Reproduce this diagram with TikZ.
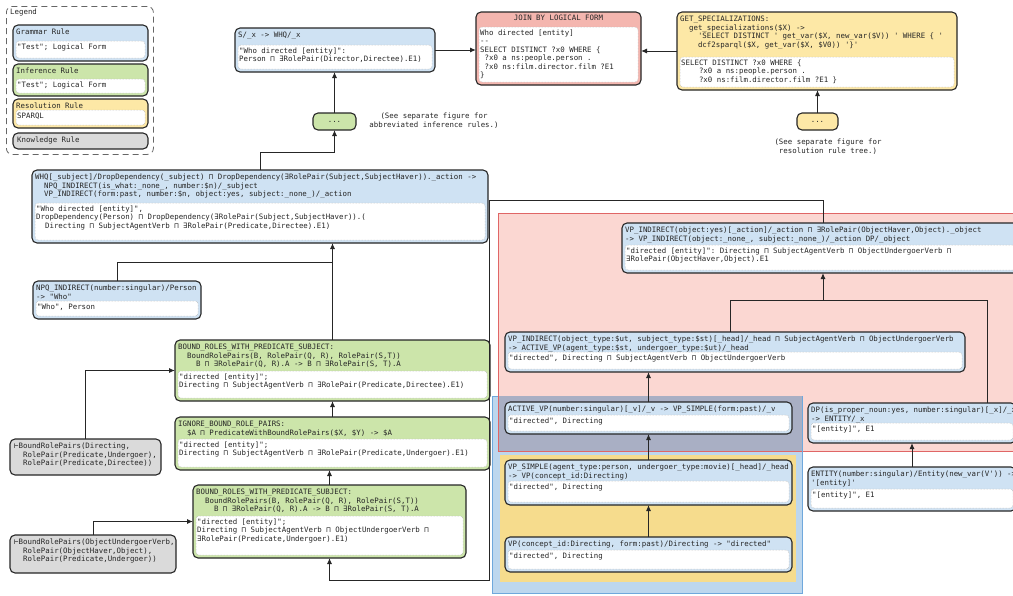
\documentclass[tikz,border=0pt]{standalone}
\usepackage{fontspec}
\setmonofont{DejaVu Sans Mono}
\usetikzlibrary{arrows.meta}
\definecolor{cG}{HTML}{CFE2F3}
\definecolor{cI}{HTML}{CCE5AA}
\definecolor{cR}{HTML}{FDE8A6}
\definecolor{cK}{HTML}{DADADA}
\definecolor{cJ}{HTML}{F4B6AF}
\definecolor{regR}{HTML}{FBD7D2}
\definecolor{regRb}{HTML}{E06666}
\definecolor{regB}{HTML}{BDD7EE}
\definecolor{regBb}{HTML}{6FA8DC}
\definecolor{regY}{HTML}{F6DC8D}
\definecolor{regO}{HTML}{A9AFC4}
\definecolor{ink}{HTML}{262626}
\tikzset{
  rb/.style={draw=ink, line width=1.1pt, rounded corners=5pt, inner sep=0pt, outer sep=0pt},
  inbox/.style={fill=white, draw=gray!60, densely dotted, line width=0.5pt, rounded corners=3pt},
  txt/.style={font={\ttfamily\fontsize{7.4}{8.5}\selectfont}, text=ink, align=left, inner sep=0pt, anchor=north west},
  arr/.style={draw=ink, line width=1pt, -{Latex[length=6pt,width=5pt]}},
  ln/.style={draw=ink, line width=1pt},
}
% name, x1, y1, x2, y2, inner top, fill, header, inner text
\newcommand\rulebox[9]{%
  \node[rb, fill=#7, minimum width={(#4-#2)*1pt}, minimum height={(#5-#3)*1pt}, anchor=north west] (#1) at (#2,#3) {};
  \draw[inbox] (#2+3,#6) rectangle (#4-3,#5-3);
  \node[txt] at (#2+3,#3+4) {#8};
  \node[txt] at (#2+4,#6+2.5) {#9};
}
% name, x1, y1, x2, y2, text
\newcommand\knowbox[6]{%
  \node[rb, fill=cK, minimum width={(#4-#2)*1pt}, minimum height={(#5-#3)*1pt}, anchor=north west] (#1) at (#2,#3) {};
  \node[txt] at (#2+4,#3+4) {#6};
}
\begin{document}
\begin{tikzpicture}[x=1pt,y=-1pt]
\useasboundingbox (0,0) rectangle (1013,595);
\clip (0,0) rectangle (1013,595);
% ---------- background regions
\fill[regR] (498,213) rectangle (1030,451);
\draw[regRb, line width=0.8pt] (498,213) rectangle (1030,451);
\fill[regB] (492,396) rectangle (802,593);
\draw[regBb, line width=0.8pt] (492,396) rectangle (802,593);
\fill[regO] (498,396) rectangle (802,451);
\draw[regRb, line width=0.8pt] (498,396) -- (498,451) -- (802,451);
\fill[regY] (500,455) rectangle (796,582);
% ---------- legend
\node[draw=gray!80!black, dashed, dash pattern=on 6pt off 4pt, line width=0.8pt, rounded corners=6pt, minimum width=147pt, minimum height=148pt, anchor=north west, inner sep=0pt] (leg) at (6,6) {};
\node[txt] at (10,9) {Legend};
\rulebox{lgG}{13}{25}{148}{61}{41}{cG}{Grammar Rule}{"Test"; Logical Form}
\rulebox{lgI}{13}{64}{148}{96}{79}{cI}{Inference Rule}{"Test"; Logical Form}
\rulebox{lgR}{13}{99}{148}{128}{110}{cR}{Resolution Rule}{SPARQL}
\knowbox{lgK}{13}{133}{148}{149}{Knowledge Rule}
% ---------- top row
\rulebox{S}{235}{28}{435}{72}{45}{cG}{S/\_x -> WHQ/\_x}{"Who directed [entity]":\\Person ⊓ ∃RolePair(Director,Directee).E1)}
\rulebox{J}{476}{12}{641}{85}{27}{cJ}{}{Who directed [entity]\\--\\SELECT DISTINCT ?x0 WHERE \{\\~?x0 a ns:people.person .\\~?x0 ns:film.director.film ?E1\\\}}
\node[txt, anchor=north] at (558.5,15) {JOIN BY LOGICAL FORM};
\rulebox{GS}{677}{12}{957}{90}{57}{cR}{GET\_SPECIALIZATIONS:\\~~get\_specializations(\$X) ->\\~~~~'SELECT DISTINCT ' get\_var(\$X, new\_var(\$V)) ' WHERE \{ '\\~~~~dcf2sparql(\$X, get\_var(\$X, \$V0)) '\}'}{SELECT DISTINCT ?x0 WHERE \{\\~~~~?x0 a ns:people.person .\\~~~~?x0 ns:film.director.film ?E1 \}}
\node[rb, fill=cI, minimum width=43pt, minimum height=17pt, anchor=north west] (dotG) at (313,113) {};
\node[txt, anchor=center] at (dotG) {...};
\node[txt, align=center, anchor=north] (noteG) at (434,113) {(See separate figure for\\abbreviated inference rules.)};
\node[rb, fill=cR, minimum width=41pt, minimum height=17pt, anchor=north west] (dotY) at (797,113) {};
\node[txt, anchor=center] at (dotY) {...};
\node[txt, align=center, anchor=north] (noteY) at (828,139) {(See separate figure for\\resolution rule tree.)};
% ---------- left column
\rulebox{WHQ}{32}{170}{488}{243}{203}{cG}{WHQ[\_subject]/DropDependency(\_subject) ⊓ DropDependency(∃RolePair(Subject,SubjectHaver)).\_action ->\\~~NPQ\_INDIRECT(is\_what:\_none\_, number:\$n)/\_subject\\~~VP\_INDIRECT(form:past, number:\$n, object:yes, subject:\_none\_)/\_action}{"Who directed [entity]",\\DropDependency(Person) ⊓ DropDependency(∃RolePair(Subject,SubjectHaver)).(\\~~Directing ⊓ SubjectAgentVerb ⊓ ∃RolePair(Predicate,Directee).E1)}
\rulebox{NPQ}{33}{281}{201}{319}{301}{cG}{NPQ\_INDIRECT(number:singular)/Person\\-> "Who"}{"Who", Person}
\rulebox{BRa}{175}{340}{490}{401}{371}{cI}{BOUND\_ROLES\_WITH\_PREDICATE\_SUBJECT:\\~~BoundRolePairs(B, RolePair(Q, R), RolePair(S,T))\\~~~~B ⊓ ∃RolePair(Q, R).A -> B ⊓ ∃RolePair(S, T).A}{"directed [entity]";\\Directing ⊓ SubjectAgentVerb ⊓ ∃RolePair(Predicate,Directee).E1)}
\rulebox{IG}{175}{417}{490}{470}{439}{cI}{IGNORE\_BOUND\_ROLE\_PAIRS:\\~~\$A ⊓ PredicateWithBoundRolePairs(\$X, \$Y) -> \$A}{"directed [entity]";\\Directing ⊓ SubjectAgentVerb ⊓ ∃RolePair(Predicate,Undergoer).E1)}
\rulebox{BRb}{193}{485}{466}{558}{516}{cI}{BOUND\_ROLES\_WITH\_PREDICATE\_SUBJECT:\\~~BoundRolePairs(B, RolePair(Q, R), RolePair(S,T))\\~~~~B ⊓ ∃RolePair(Q, R).A -> B ⊓ ∃RolePair(S, T).A}{"directed [entity]";\\Directing ⊓ SubjectAgentVerb ⊓ ObjectUndergoerVerb ⊓\\∃RolePair(Predicate,Undergoer).E1)}
\knowbox{Ka}{10}{439}{161}{475}{⊢BoundRolePairs(Directing,\\~~RolePair(Predicate,Undergoer),\\~~RolePair(Predicate,Directee))}
\knowbox{Kb}{10}{535}{176}{573}{⊢BoundRolePairs(ObjectUndergoerVerb,\\~~RolePair(ObjectHaver,Object),\\~~RolePair(Predicate,Undergoer))}
% ---------- right column
\rulebox{VPa}{622}{223}{1024}{273}{245}{cG}{VP\_INDIRECT(object:yes)[\_action]/\_action ⊓ ∃RolePair(ObjectHaver,Object).\_object\\-> VP\_INDIRECT(object:\_none\_, subject:\_none\_)/\_action DP/\_object}{"directed [entity]": Directing ⊓ SubjectAgentVerb ⊓ ObjectUndergoerVerb ⊓\\∃RolePair(ObjectHaver,Object).E1}
\rulebox{VPb}{505}{332}{965}{372}{352}{cG}{VP\_INDIRECT(object\_type:\$ut, subject\_type:\$st)[\_head]/\_head ⊓ SubjectAgentVerb ⊓ ObjectUndergoerVerb\\-> ACTIVE\_VP(agent\_type:\$st, undergoer\_type:\$ut)/\_head}{"directed", Directing ⊓ SubjectAgentVerb ⊓ ObjectUndergoerVerb}
\rulebox{AV}{505}{402}{792}{434}{415}{cG}{ACTIVE\_VP(number:singular)[\_v]/\_v -> VP\_SIMPLE(form:past)/\_v}{"directed", Directing}
\rulebox{VS}{505}{460}{792}{505}{481}{cG}{VP\_SIMPLE(agent\_type:person, undergoer\_type:movie)[\_head]/\_head\\-> VP(concept\_id:Directing)}{"directed", Directing}
\rulebox{VP}{505}{537}{792}{572}{550}{cG}{VP(concept\_id:Directing, form:past)/Directing -> "directed"}{"directed", Directing}
\rulebox{DP}{808}{403}{1016}{443}{423}{cG}{DP(is\_proper\_noun:yes, number:singular)[\_x]/\_x\\-> ENTITY/\_x}{"[entity]", E1}
\rulebox{EN}{808}{467}{1016}{511}{489}{cG}{ENTITY(number:singular)/Entity(new\_var(V')) ->\\'[entity]'}{"[entity]", E1}
% ---------- junction coordinates
\coordinate (j1) at (0,152);
\coordinate (j2) at (0,262);
\coordinate (j3) at (489,200);
\coordinate (j4) at (489,580);
\coordinate (j5) at (0,300);
\coordinate (j6) at (987,0);
\coordinate (j7) at (730,0);
% ---------- connectors
\draw[arr] (S.east) -- (S.east -| J.west);
\draw[arr] (GS.west) -- (GS.west -| J.east);
\draw[arr] (dotY.north) -- (dotY.north |- GS.south);
\draw[arr] (dotG.north) -- (dotG.north |- S.south);
\draw[arr] (WHQ.north) -- (WHQ.north |- j1) -| (dotG.south);
\draw[arr] (BRa.north) -- (BRa.north |- WHQ.south);
\draw[ln] (NPQ.north) -- (NPQ.north |- j2) -- (j2 -| BRa.north);
\draw[arr] (Ka.north) |- (BRa.west);
\draw[arr] (IG.north) -- (IG.north |- BRa.south);
\draw[arr] (BRb.north) -- (BRb.north |- IG.south);
\draw[arr] (Kb.north) |- (BRb.west);
\draw[arr] (VPa.north) |- (j3) -- (j4) -| (BRb.south);
\draw[arr] (j7 |- VPb.north) -- (j7 |- j5) -- (j5 -| VPa.south) -- (VPa.south);
\draw[ln] (j6 |- DP.north) -- (j6 |- j5) -- (j5 -| VPa.south);
\draw[arr] (AV.north) -- (AV.north |- VPb.south);
\draw[arr] (VS.north) -- (VS.north |- AV.south);
\draw[arr] (VP.north) -- (VP.north |- VS.south);
\draw[arr] (EN.north) -- (EN.north |- DP.south);
\end{tikzpicture}
\end{document}
